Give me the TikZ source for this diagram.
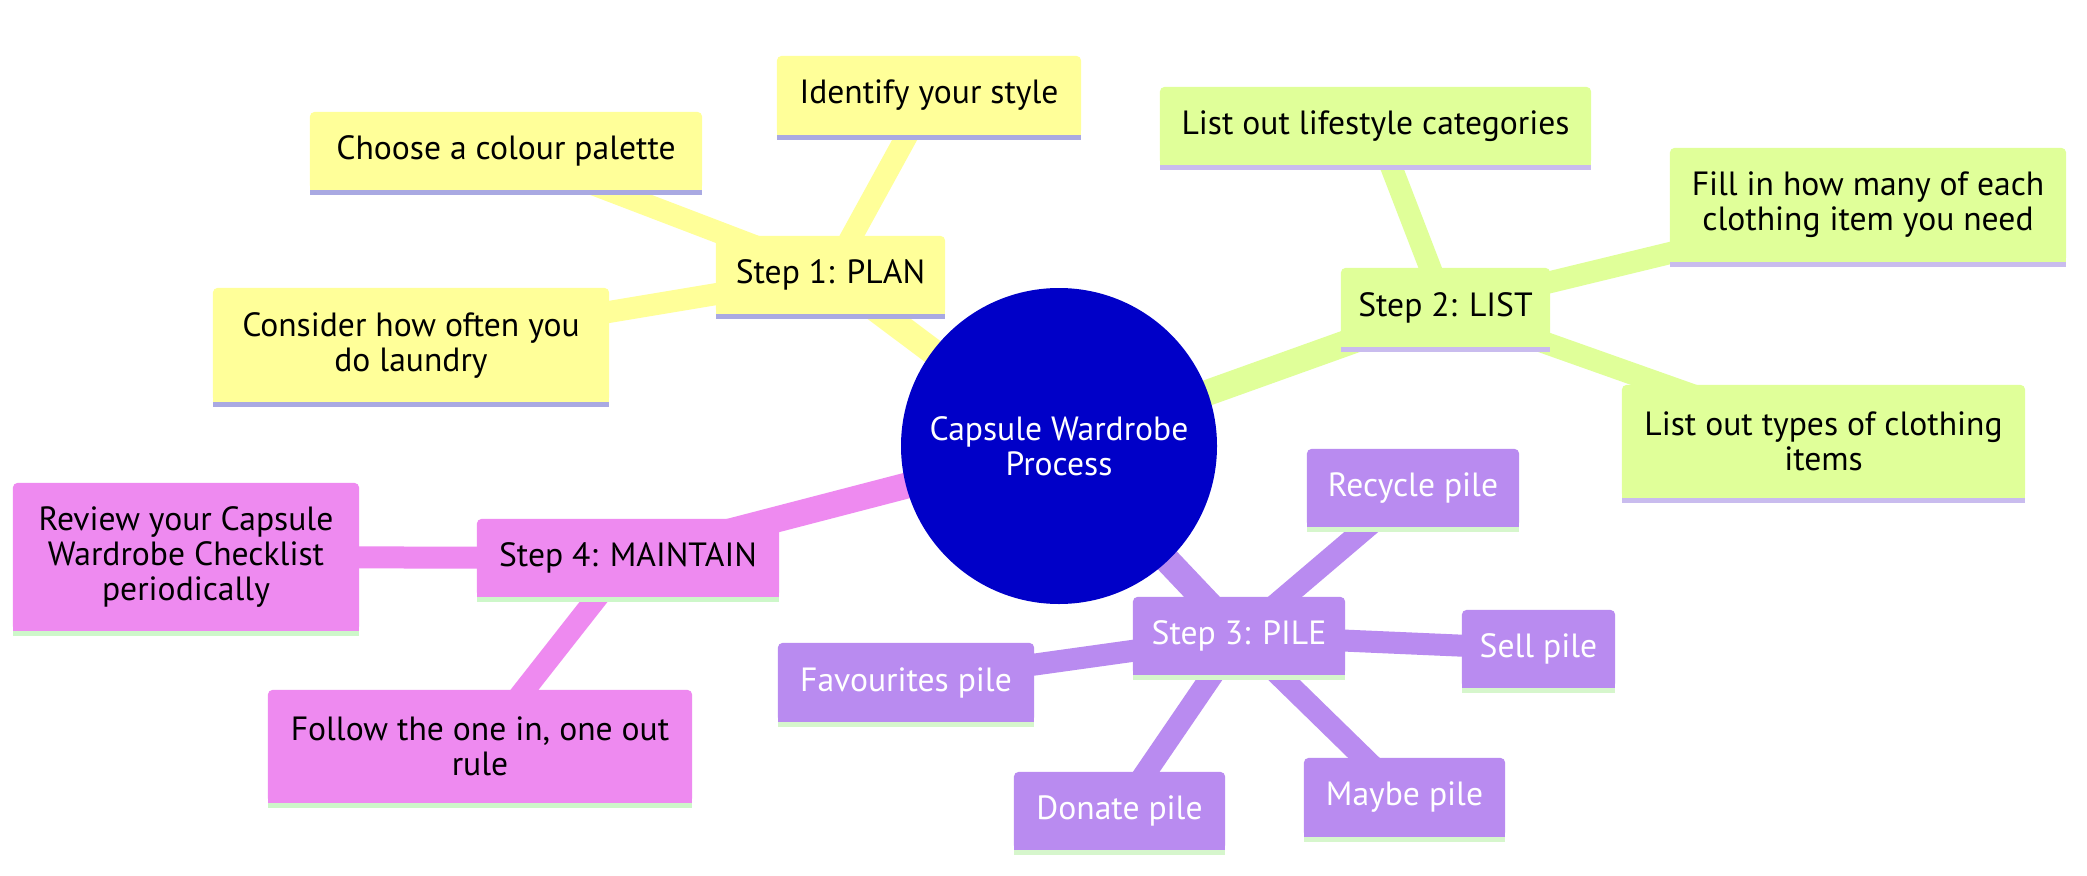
\documentclass[tikz,border=0pt]{standalone}
\usepackage{fontspec}
\setmainfont{PT Sans}
\usetikzlibrary{calc}
\pgfdeclarelayer{backlayer}
\pgfdeclarelayer{edgelayer}
\pgfdeclarelayer{bglayer}
\pgfsetlayers{backlayer,edgelayer,bglayer,main}
\definecolor{ycol}{HTML}{FFFF99}
\definecolor{ystr}{HTML}{A9A9E2}
\definecolor{gcol}{HTML}{E0FF99}
\definecolor{gstr}{HTML}{C9BCEE}
\definecolor{pcol}{HTML}{B98BF0}
\definecolor{pstr}{HTML}{D6F6CC}
\definecolor{kcol}{HTML}{EE8AF0}
\definecolor{kstr}{HTML}{CDF7C9}
\definecolor{rootcol}{HTML}{0000C8}
\tikzset{
  mmtext/.style={font=\fontsize{33.6}{35}\selectfont, align=center, inner sep=0pt, rectangle},
  ybox/.style={mmtext, text=black},
  gbox/.style={mmtext, text=black},
  pbox/.style={mmtext, text=white},
  kbox/.style={mmtext, text=black},
  rootnode/.style={circle, fill=rootcol, text=white, minimum size=316pt, inner sep=0pt,
    font=\fontsize{33.6}{35}\selectfont, align=center},
  rootedge/.style={line width=26pt},
  leafedge/.style={line width=22pt}
}
% name, colour prefix, x, y, width, height, text
\newcommand\mmnode[7]{%
  \node[#2box, minimum width=#5pt, minimum height=#6pt] (#1) at (#3,#4) {#7};
  \begin{pgfonlayer}{bglayer}
    \fill[#2col, rounded corners=5pt] (#1.south west) rectangle (#1.north east);
    \fill[#2col] (#1.west) rectangle (#1.south east);
    \fill[#2str] (#1.south west) rectangle ([yshift=-5pt]#1.south east);
  \end{pgfonlayer}%
}
\begin{document}
\begin{tikzpicture}[x=1pt,y=-1pt]
\useasboundingbox (0,0) rectangle (2087,875);
\begin{pgfonlayer}{backlayer}
\fill[white] (0,0) rectangle (2087,875);
\end{pgfonlayer}

\node[rootnode] (root) at (1059,446) {Capsule Wardrobe\\Process};

% Step 1
\mmnode{plan}{y}{830.5}{275}{229}{78}{Step 1: PLAN}
\mmnode{identify}{y}{929}{95.5}{304}{79}{Identify your style}
\mmnode{palette}{y}{506}{151}{392}{78}{Choose a colour palette}
\mmnode{laundry}{y}{411}{345}{396}{114}{Consider how often you\\do laundry}

% Step 2
\mmnode{list}{g}{1445.5}{307.5}{209}{79}{Step 2: LIST}
\mmnode{lifestyle}{g}{1375.5}{126}{431}{78}{List out lifestyle categories}
\mmnode{fillin}{g}{1868}{205}{396}{114}{Fill in how many of each\\clothing item you need}
\mmnode{types}{g}{1823.5}{441.5}{403}{113}{List out types of clothing\\items}

% Step 3
\mmnode{pile}{p}{1239}{636}{212}{78}{Step 3: PILE}
\mmnode{recycle}{p}{1413}{488}{212}{78}{Recycle pile}
\mmnode{sell}{p}{1538.5}{649}{153}{78}{Sell pile}
\mmnode{favourites}{p}{906}{682.5}{256}{79}{Favourites pile}
\mmnode{donate}{p}{1119.5}{811}{211}{78}{Donate pile}
\mmnode{maybe}{p}{1404.5}{797.5}{201}{79}{Maybe pile}

% Step 4
\mmnode{maintain}{k}{628}{558}{302}{78}{Step 4: MAINTAIN}
\mmnode{review}{k}{186}{557}{346}{148}{Review your Capsule\\Wardrobe Checklist\\periodically}
\mmnode{follow}{k}{480}{746.5}{424}{113}{Follow the one in, one out\\rule}

\begin{pgfonlayer}{edgelayer}
  \draw[rootedge, ycol] (root.center) -- (plan.center);
  \draw[rootedge, gcol] (root.center) -- (list.center);
  \draw[rootedge, pcol] (root.center) -- (pile.center);
  \draw[rootedge, kcol] (root.center) -- (maintain.center);
  \draw[leafedge, ycol] (plan.center) -- (identify.center);
  \draw[leafedge, ycol] (plan.center) -- (palette.center);
  \draw[leafedge, ycol] (plan.center) -- (laundry.center);
  \draw[leafedge, gcol] (list.center) -- (lifestyle.center);
  \draw[leafedge, gcol] (list.center) -- (fillin.center);
  \draw[leafedge, gcol] (list.center) -- (types.center);
  \draw[leafedge, pcol] (pile.center) -- (recycle.center);
  \draw[leafedge, pcol] (pile.center) -- (sell.center);
  \draw[leafedge, pcol] (pile.center) -- (favourites.center);
  \draw[leafedge, pcol] (pile.center) -- (donate.center);
  \draw[leafedge, pcol] (pile.center) -- (maybe.center);
  \draw[leafedge, kcol] (maintain.center) -- (review.center);
  \draw[leafedge, kcol] (maintain.center) -- (follow.center);
\end{pgfonlayer}
\end{tikzpicture}
\end{document}
